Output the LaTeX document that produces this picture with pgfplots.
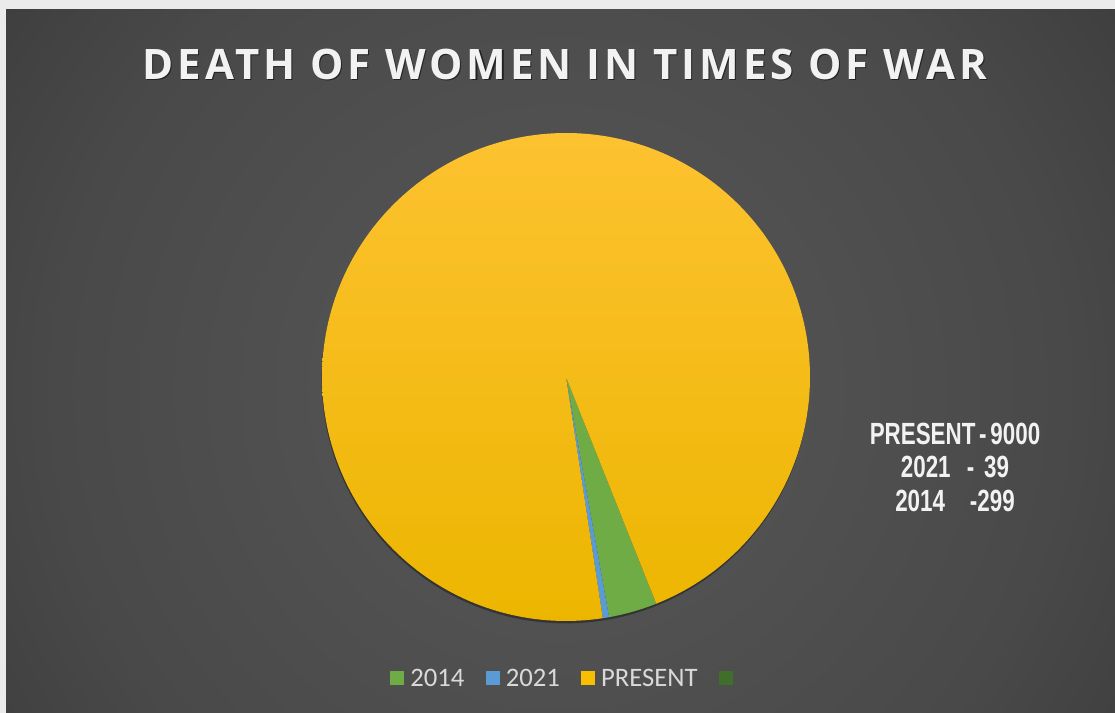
\documentclass[border=0pt]{standalone}
\usepackage{pgfplots}
\pgfplotsset{compat=1.18}
\usepackage{graphicx}
\usepackage{fontspec}
\setmainfont{Carlito}
\newfontfamily\titlefont{Open Sans}[LetterSpace=9.3]
\newfontfamily\annfont{Liberation Sans}
\definecolor{c2014}{HTML}{6FAC46}
\definecolor{c2021}{HTML}{5B9BD5}
\definecolor{cpresent}{HTML}{F8BE00}
\definecolor{cprestop}{HTML}{FDC230}
\definecolor{cpresbot}{HTML}{ECB600}
\definecolor{cfourth}{HTML}{3F6F2A}
\definecolor{lightbg}{HTML}{EBEBEB}
\definecolor{bg0}{HTML}{585858}
\definecolor{bg1}{HTML}{494949}
\definecolor{bg2}{HTML}{424242}
\definecolor{bg3}{HTML}{363636}
\definecolor{bg4}{HTML}{2D2D2D}
\definecolor{bg5}{HTML}{252525}
\definecolor{bg6}{HTML}{202020}
\definecolor{titlecol}{HTML}{F2F2F2}
\definecolor{legtext}{HTML}{D9D9D9}
\pgfdeclareradialshading{bgshade}{\pgfpoint{0bp}{0bp}}{color(0bp)=(bg0); color(21bp)=(bg1); color(26bp)=(bg2); color(34bp)=(bg3); color(41bp)=(bg4); color(47bp)=(bg5); color(60bp)=(bg6); color(71bp)=(bg6)}
% data
\def\vA{299}   % 2014
\def\vB{39}    % 2021
\def\vC{9000}  % PRESENT
\def\vD{0}     % (unnamed)
\pgfmathsetmacro\tot{\vA+\vB+\vC+\vD}
\pgfmathsetmacro\aA{158.3}
\pgfmathsetmacro\aB{\aA+\vA/\tot*360}
\pgfmathsetmacro\aC{\aB+\vB/\tot*360}
\pgfmathsetmacro\aD{\aC+\vC/\tot*360}
\newcommand\pieslice[3]{%
  \addplot[#1, draw=none, domain=0:240, samples=241, forget plot]
    ({(x<0.5?0:1)*sin(#2+(x-1)*(#3-#2)/239)}, {(x<0.5?0:1)*cos(#2+(x-1)*(#3-#2)/239)});}
\begin{document}
\begin{tikzpicture}
\fill[lightbg] (0,0) rectangle (836.25pt,534.75pt);
\begin{scope}
\clip (4.5pt,0) rectangle (836.25pt,527.25pt);
\shade[shading=bgshade] (-30pt,-207.75pt) rectangle (870pt,692.25pt);
\end{scope}
\begin{axis}[
  at={(424.5pt,252pt)}, anchor=center,
  width=366pt, height=366pt, scale only axis,
  xmin=-1, xmax=1, ymin=-1, ymax=1,
  hide axis, clip=false,
  legend columns=4,
  legend style={at={(0.5,-0.119)}, anchor=center, draw=none, fill=none,
    text=legtext, font=\fontsize{20}{24}\selectfont,
    /tikz/every even column/.append style={column sep=14pt}},
  legend image code/.code={\fill[#1, draw=none] (0pt,-4.5pt) rectangle (10.5pt,6pt); \path[draw=none, fill=none] (0pt,0pt) (13pt,0pt);},
]
\pieslice{fill=black, opacity=0.35, xshift=-0.3pt, yshift=-1.8pt}{0}{360}
\pieslice{fill=c2014}{\aA}{\aB}
\pieslice{fill=c2021}{\aB}{\aC}
\pieslice{top color=cprestop, bottom color=cpresbot}{\aC}{\aD}
\addlegendimage{fill=c2014}\addlegendentry{2014}
\addlegendimage{fill=c2021}\addlegendentry{2021}
\addlegendimage{fill=cpresent}\addlegendentry{PRESENT}
\addlegendimage{fill=cfourth}\addlegendentry{}
\end{axis}
\node[anchor=base, text=black, opacity=0.55] at (424.55pt,474.0pt) {\titlefont\bfseries\fontsize{31.5}{36}\selectfont DEATH OF WOMEN IN TIMES OF WAR};
\node[anchor=base, text=titlecol] at (423.75pt,474.75pt) {\titlefont\bfseries\fontsize{31.5}{36}\selectfont DEATH OF WOMEN IN TIMES OF WAR};
\node[anchor=base, text=titlecol] at (716.25pt,201pt) {\annfont\bfseries\fontsize{23}{26}\selectfont\scalebox{0.73}[1]{PRESENT\,-\,9000}};
\node[anchor=base, text=titlecol] at (716.25pt,176.25pt) {\annfont\bfseries\fontsize{23}{26}\selectfont\scalebox{0.73}[1]{2021\ \ \,-\ \,39}};
\node[anchor=base, text=titlecol] at (716.25pt,150.75pt) {\annfont\bfseries\fontsize{23}{26}\selectfont\scalebox{0.73}[1]{2014\ \ \ \ -299}};
\pgfresetboundingbox
\path (0,0) rectangle (836.25pt,534.75pt);
\end{tikzpicture}
\end{document}
